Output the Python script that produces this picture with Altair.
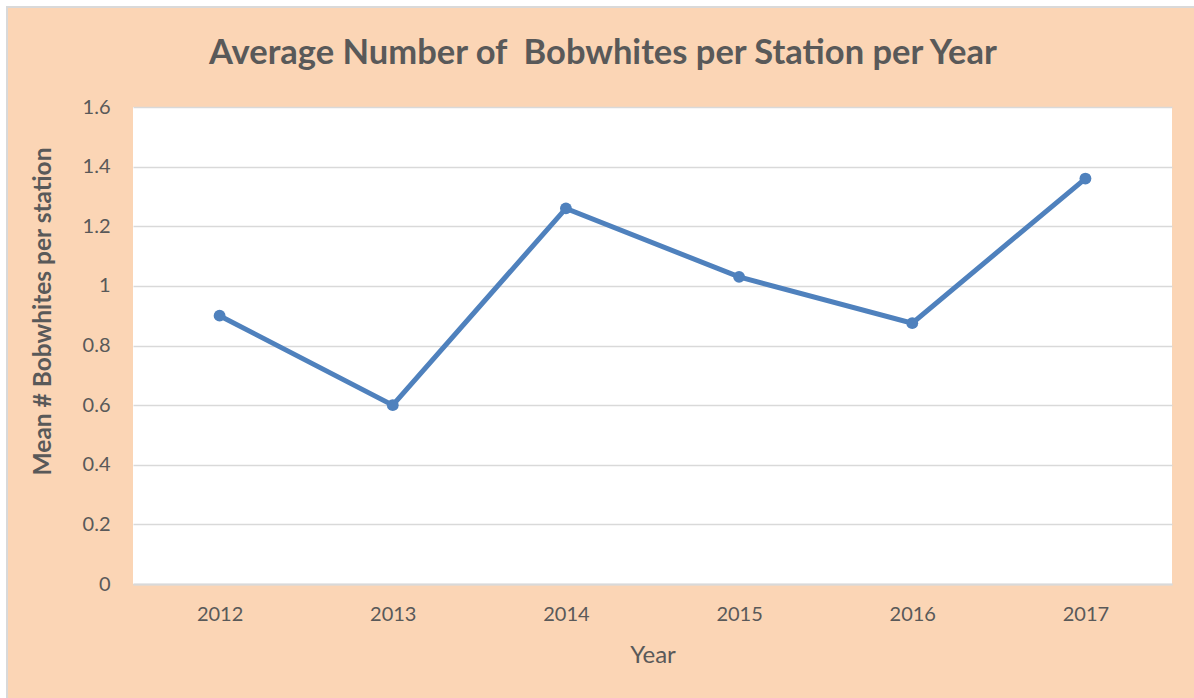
import altair as alt
import pandas as pd

years = ["2012", "2013", "2014", "2015", "2016", "2017"]
means = [0.90, 0.60, 1.26, 1.03, 0.875, 1.36]
title_text = "Average Number of\u00a0 Bobwhites per Station per Year"

df = pd.DataFrame({"Year": years, "Mean": means})

PEACH = "#FBD5B5"
GRAY = "#D9D9D9"
TXT = "#595959"
FONT = "Lato"

x_enc = alt.X("Year:N", sort=years,
              scale=alt.Scale(type="point", padding=0.5),
              axis=alt.Axis(title="Year", labelAngle=0, ticks=False,
                            domainColor=GRAY, domainWidth=2,
                            labelPadding=20, titlePadding=19))
y_enc = alt.Y("Mean:Q",
              scale=alt.Scale(domain=[0, 1.6], nice=False),
              axis=alt.Axis(title="Mean # Bobwhites per station",
                            values=[0, 0.2, 0.4, 0.6, 0.8, 1.0, 1.2, 1.4, 1.6],
                            format=".1~f", ticks=False, domain=False,
                            gridColor=GRAY, gridWidth=1.5,
                            labelPadding=23,
                            titleX=-90, titleY=204, titleBaseline="middle",
                            titleAlign="center", titleAngle=270,
                            titleFontWeight="bold", titleFontSize=24.5))

line = alt.Chart(df).mark_line(color="#4F81BD", strokeWidth=5).encode(x=x_enc, y=y_enc)
pts = alt.Chart(df).mark_point(filled=True, color="#4F81BD", size=140, opacity=1).encode(x=x_enc, y=y_enc)

# decoration: white strips & light border outside the peach panel, and chart title
strip = pd.DataFrame({"k": [0]})
left_strip = alt.Chart(strip).mark_rect(color="white").encode(
    x=alt.value(-133), x2=alt.value(-126), y=alt.value(-107), y2=alt.value(591))
top_strip = alt.Chart(strip).mark_rect(color="white").encode(
    x=alt.value(-133), x2=alt.value(1061), y=alt.value(-107), y2=alt.value(-99))
left_border = alt.Chart(strip).mark_rule(color=GRAY, strokeWidth=2).encode(
    x=alt.value(-126), y=alt.value(-100), y2=alt.value(591))
top_border = alt.Chart(strip).mark_rule(color=GRAY, strokeWidth=2).encode(
    x=alt.value(-127), x2=alt.value(1061), y=alt.value(-100))
title = alt.Chart(strip).mark_text(
    text=title_text, font=FONT, fontSize=34.5, fontWeight="bold", color=TXT,
    align="center", baseline="alphabetic").encode(
    x=alt.value(470), y=alt.value(-43.5))

chart = alt.layer(left_strip, top_strip, left_border, top_border, title, line, pts).properties(
    width=1039, height=477,
    autosize=alt.AutoSizeParams(type="none"),
    padding={"left": 133, "top": 107, "right": 22, "bottom": 114},
    background=PEACH,
).configure_view(fill="white", stroke=None).configure_axis(
    labelFont=FONT, titleFont=FONT, labelColor=TXT, titleColor=TXT,
    labelFontSize=20, titleFontSize=24, titleFontWeight="normal",
)

chart.save("out.html", embed_options={"renderer": "svg", "actions": False})
